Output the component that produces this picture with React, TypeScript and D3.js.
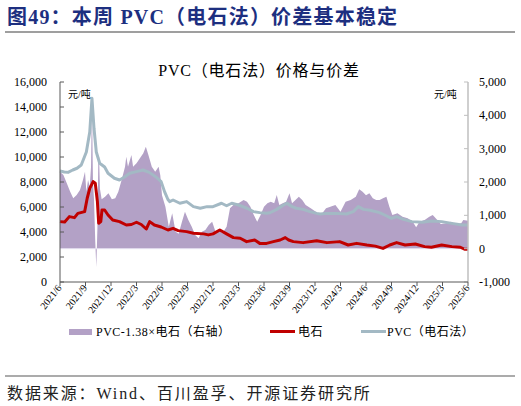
import React from "react";
import * as d3 from "d3";

// months since 2021/6 (x position) and values
const pvcT = [0, 0.5, 0.94, 1.5, 2.0, 2.5, 3.1, 3.5, 3.76, 4.0, 4.27, 4.67, 5.25, 5.65, 6.4, 7.0, 7.6, 8.2, 9.0, 9.76, 10.5, 11.3, 11.9, 12.3, 12.7, 12.9, 13.3, 14.1, 14.9, 15.7, 16.5, 17.3, 18.0, 19.0, 19.6, 20.2, 21.0, 22.0, 22.75, 23.5, 24.3, 24.7, 25.5, 26.3, 26.7, 27.3, 27.8, 28.6, 29.4, 30.2, 30.6, 31.4, 32.5, 33.7, 34.5, 35.1, 35.7, 36.5, 37.6, 38.2, 39.0, 39.6, 40.4, 41.4, 42.6, 43.7, 44.9, 46.1, 47.3, 48];
const pvcV = [8880, 8800, 8770, 8960, 9100, 9360, 10400, 12000, 14700, 12300, 10400, 9500, 9200, 8700, 8300, 8160, 8400, 8700, 8830, 8960, 8770, 8400, 8030, 7230, 6600, 6430, 6560, 6300, 6430, 6030, 5900, 6030, 6030, 6300, 6100, 6300, 6160, 5900, 5630, 5550, 5500, 5540, 5810, 6160, 6290, 6030, 5900, 5810, 5630, 5490, 5440, 5490, 5490, 5440, 5630, 6030, 5810, 5740, 5550, 5360, 5090, 5230, 5010, 4830, 4780, 4880, 4830, 4690, 4560, 4560];

const carbT = [0, 0.55, 1.1, 1.7, 2.1, 2.9, 3.2, 3.5, 3.9, 4.15, 4.4, 4.55, 4.8, 4.94, 5.25, 5.65, 6.2, 7.0, 7.8, 8.4, 9.0, 9.56, 10.15, 10.55, 11.1, 11.9, 12.7, 13.3, 13.9, 14.9, 15.7, 16.9, 17.45, 18.0, 18.8, 19.6, 20.4, 21.2, 21.95, 22.9, 23.5, 24.3, 25.1, 25.9, 26.5, 26.9, 27.45, 28.6, 30.2, 31.4, 32.9, 33.9, 34.9, 36.1, 37.1, 38.0, 38.8, 39.6, 40.6, 41.8, 42.9, 43.7, 44.9, 46.1, 47.1, 47.6, 48];
const carbV = [4830, 4800, 5230, 5150, 5490, 5630, 6700, 7490, 8030, 7900, 6430, 4700, 4830, 5760, 5760, 5360, 4960, 4830, 4560, 4600, 4780, 4600, 4240, 4830, 4560, 4400, 4160, 4290, 4110, 4030, 3900, 3850, 3770, 3850, 4160, 3850, 3550, 3500, 3230, 3360, 3090, 3090, 3230, 3360, 3550, 3360, 3230, 3150, 3300, 3150, 3230, 2960, 3090, 2960, 2870, 2690, 2960, 3150, 2960, 3040, 2830, 2780, 2960, 2830, 2780, 2620, 2620];

const spreadT = [0, 0.4, 0.8, 1.2, 1.56, 1.96, 2.35, 2.7, 2.94, 3.1, 3.3, 3.5, 3.65, 3.76, 3.88, 4.0, 4.15, 4.27, 4.4, 4.5, 4.6, 4.7, 4.9, 5.3, 5.7, 6.1, 6.5, 6.86, 7.25, 7.65, 7.8, 8.0, 8.4, 8.6, 9.0, 9.4, 9.8, 10.1, 10.4, 10.8, 11.2, 11.6, 11.8, 12.0, 12.4, 12.8, 13.2, 13.6, 13.96, 14.35, 14.7, 15.1, 15.5, 15.9, 16.3, 16.7, 17.1, 17.5, 17.9, 18.3, 18.7, 19.1, 19.6, 20.0, 20.4, 21.0, 21.6, 22.0, 22.4, 22.8, 23.2, 23.6, 24.0, 24.4, 24.8, 25.2, 25.5, 25.8, 26.2, 26.6, 27.0, 27.3, 27.7, 28.1, 28.5, 28.9, 29.5, 30.1, 30.7, 31.3, 31.8, 32.4, 33.0, 33.6, 34.2, 34.8, 35.2, 35.6, 36.0, 36.4, 36.8, 37.2, 37.6, 38.0, 38.4, 38.75, 39.1, 39.7, 40.3, 40.9, 41.5, 41.9, 42.3, 42.9, 43.45, 43.85, 44.2, 44.8, 45.4, 46.0, 46.6, 47.2, 47.45, 48];
const spreadV = [2310, 2210, 1960, 1710, 1510, 1610, 1760, 2060, 2310, 1710, 2060, 1860, 2460, 4400, 2000, 1480, 200, -560, 600, 2560, 2760, 1800, 1480, 1560, 1660, 1480, 1510, 1710, 2060, 2460, 2760, 2460, 2810, 2460, 2560, 2710, 2860, 3060, 2810, 2460, 2310, 2460, 2200, 1600, 1260, 660, 1060, 510, 450, 810, 1110, 860, 660, 410, 310, 510, 560, 710, 810, 510, 560, 460, 660, 1210, 1310, 1360, 1460, 1410, 1260, 1010, 810, 1010, 1260, 1360, 1410, 1360, 1610, 1310, 1360, 1410, 1660, 1360, 1460, 1560, 1460, 1310, 1210, 1110, 1010, 1210, 1260, 1310, 1110, 1410, 1460, 1560, 1780, 1710, 1600, 1660, 1510, 1460, 1460, 1510, 1560, 1260, 1010, 1060, 960, 910, 810, 640, 810, 860, 960, 1010, 910, 740, 760, 810, 710, 760, 860, 840];

const xTickLabels = ["2021/6", "2021/9", "2021/12", "2022/3", "2022/6", "2022/9", "2022/12", "2023/3", "2023/6", "2023/9", "2023/12", "2024/3", "2024/6", "2024/9", "2024/12", "2025/3", "2025/6"];
const leftTicks = [0, 2000, 4000, 6000, 8000, 10000, 12000, 14000, 16000];
const rightTicks = [-1000, 0, 1000, 2000, 3000, 4000, 5000];

const headerText = "图49：本周 PVC（电石法）价差基本稳定";
const chartTitle = "PVC（电石法）价格与价差";
const unitText = "元/吨";
const legendLabels = ["PVC-1.38×电石（右轴）", "电石", "PVC（电石法）"];
const sourceText = "数据来源：Wind、百川盈孚、开源证券研究所";

const W = 521, H = 406;
const M = { left: 60, right: 468, top: 82, bottom: 282 };
const serif = "'Times New Roman', 'Liberation Serif', 'Noto Sans CJK SC', serif";
const C = { spread: "#b3a1c6", carb: "#c00000", pvc: "#a3b9c4", header: "#1d2f80" };

export default function App() {
  const x = d3.scaleLinear().domain([0, 48]).range([M.left, M.right]);
  const yL = d3.scaleLinear().domain([0, 16000]).range([M.bottom, M.top]);
  const yR = d3.scaleLinear().domain([-1000, 5000]).range([M.bottom, M.top]);
  const fmt = (v: number) => d3.format(",")(v).replace("\u2212", "-");

  const spreadData = spreadT.map((t, i) => [t, spreadV[i]] as [number, number]);
  const pvcData = pvcT.map((t, i) => [t, pvcV[i]] as [number, number]);
  const carbData = carbT.map((t, i) => [t, carbV[i]] as [number, number]);

  const area = d3.area<[number, number]>().x(d => x(d[0])).y0(yR(0)).y1(d => yR(d[1]));
  const lineL = d3.line<[number, number]>().x(d => x(d[0])).y(d => yL(d[1]));

  const xTicks = xTickLabels.map((_, i) => i * 3);

  return (
    <svg width={W} height={H} style={{ position: "absolute", left: 0, top: 0, background: "#fff" }} fontFamily={serif}>
      <rect x={0} y={0} width={W} height={H} fill="#fff" />
      <text x={7} y={24} fontSize={20} fontWeight="bold" fill={C.header} letterSpacing={1.2}>{headerText}</text>
      <line x1={5} x2={515} y1={32} y2={32} stroke="#7f7f7f" strokeWidth={1.5} />

      <text x={259} y={76} fontSize={16} textAnchor="middle" fill="#000" letterSpacing={0.8}>{chartTitle}</text>

      {/* spread area */}
      <path d={area(spreadData) || ""} fill={C.spread} />
      <line x1={M.left} x2={M.right} y1={yR(0)} y2={yR(0)} stroke="#e4def0" strokeWidth={1} />
      <path d={lineL(pvcData) || ""} fill="none" stroke={C.pvc} strokeWidth={3} strokeLinejoin="round" />
      <path d={lineL(carbData) || ""} fill="none" stroke={C.carb} strokeWidth={3} strokeLinejoin="round" />

      {/* left axis */}
      <line x1={M.left} x2={M.left} y1={M.top} y2={M.bottom} stroke="#595959" strokeWidth={1} />
      {leftTicks.map(v => (
        <g key={"l" + v}>
          <line x1={M.left} x2={M.left + 4} y1={yL(v)} y2={yL(v)} stroke="#595959" />
          <text x={47} y={yL(v) + 4} fontSize={12} textAnchor="end" fill="#000">{fmt(v)}</text>
        </g>
      ))}
      {/* right axis */}
      <line x1={M.right} x2={M.right} y1={M.top} y2={M.bottom} stroke="#bfbfbf" strokeWidth={1.5} />
      {rightTicks.map(v => (
        <g key={"r" + v}>
          <line x1={M.right - 4} x2={M.right} y1={yR(v)} y2={yR(v)} stroke="#bfbfbf" />
          <text x={479} y={yR(v) + 4} fontSize={12} textAnchor="start" fill="#000">{fmt(v)}</text>
        </g>
      ))}
      {/* bottom axis */}
      <line x1={M.left} x2={M.right} y1={M.bottom} y2={M.bottom} stroke="#595959" />
      {xTicks.map((t, i) => (
        <g key={"x" + i}>
          <line x1={x(t)} x2={x(t)} y1={M.bottom} y2={M.bottom + 4} stroke="#595959" />
          <text transform={`translate(${x(t) + 2},${M.bottom + 6}) rotate(-52)`} fontSize={10} textAnchor="end" fill="#000">{xTickLabels[i]}</text>
        </g>
      ))}

      <text x={68} y={98} fontSize={10} fill="#000">{unitText}</text>
      <text x={434} y={98} fontSize={10} fill="#000">{unitText}</text>

      {/* legend */}
      <rect x={69} y={329} width={23} height={6} fill={C.spread} />
      <text x={96} y={336} fontSize={12} fill="#000" letterSpacing={0.5}>{legendLabels[0]}</text>
      <line x1={270} x2={295} y1={331.5} y2={331.5} stroke={C.carb} strokeWidth={3} />
      <text x={298} y={336} fontSize={12} fill="#000" letterSpacing={0.5}>{legendLabels[1]}</text>
      <line x1={361} x2={386} y1={331.5} y2={331.5} stroke={C.pvc} strokeWidth={3} />
      <text x={387} y={336} fontSize={12} fill="#000" letterSpacing={0.5}>{legendLabels[2]}</text>

      <line x1={5} x2={515} y1={376} y2={376} stroke="#595959" strokeWidth={1.2} />
      <text x={7} y={399} fontSize={16} fill="#222" letterSpacing={1.9}>{sourceText}</text>
    </svg>
  );
}
